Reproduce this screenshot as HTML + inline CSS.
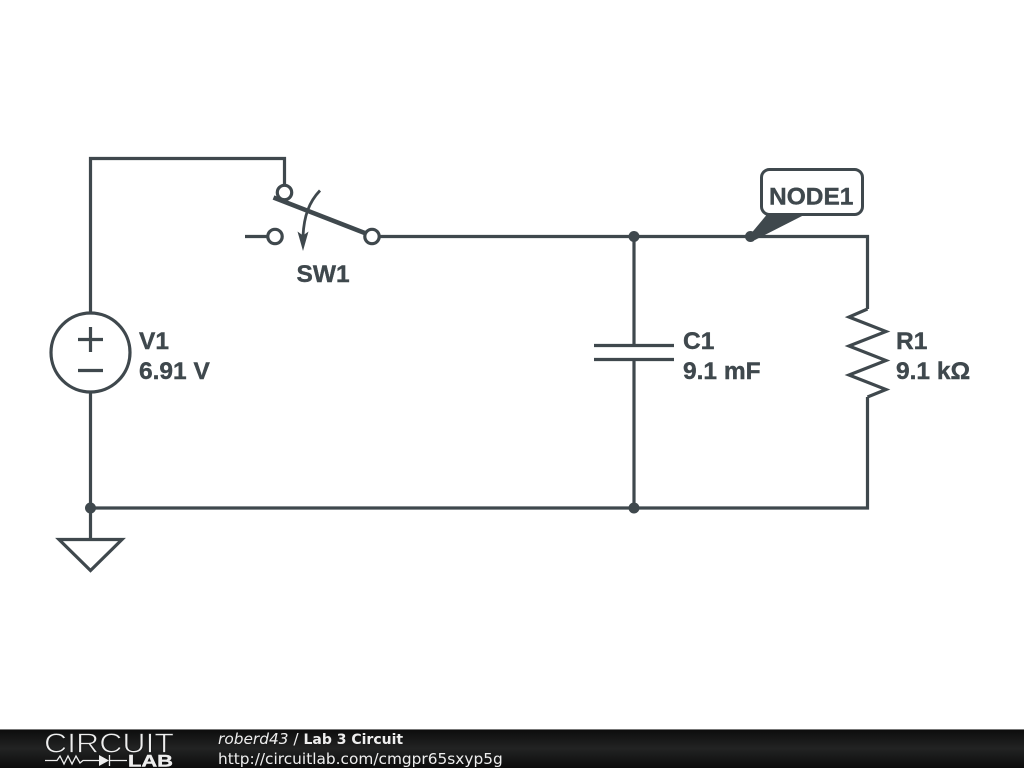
<!DOCTYPE html>
<html>
<head>
<meta charset="utf-8">
<style>
html,body{margin:0;padding:0;background:#fff;width:1024px;height:768px;overflow:hidden}
svg{display:block;position:absolute;left:0;top:0}
</style>
</head>
<body>
<svg width="1024" height="768" viewBox="0 0 1024 768" xmlns="http://www.w3.org/2000/svg">
<defs>
<linearGradient id="bar" x1="0" y1="0" x2="0" y2="1">
<stop offset="0" stop-color="#0c0c0c"/>
<stop offset="0.5" stop-color="#222323"/>
<stop offset="1" stop-color="#0c0c0c"/>
</linearGradient>
</defs>
<rect width="1024" height="768" fill="#fff"/>
<g fill="none" stroke="#3f484d" stroke-width="3.200" stroke-linecap="butt" stroke-linejoin="miter">
<!-- wires -->
<path d="M90.500 313V158.500H284.500V185"/>
<path d="M380 236.500H867.500V309"/>
<path d="M90.500 392V539"/>
<path d="M90.500 508H867.500V397"/>
<path d="M634 236.500V345.500"/>
<path d="M634 359.500V508"/>
<!-- capacitor -->
<path d="M594 345.500H674M594 359.500H674"/>
<!-- resistor -->
<path d="M867.500 309L849 317L886 331.500L849 346L886 360.500L849 375L886 389.500L867.500 397"/>
<!-- source -->
<circle cx="90.500" cy="352.500" r="39.500"/>
<path d="M78 339.500H103M90.500 327V352M78 370.500H103"/>
<!-- ground -->
<path d="M59 539.500H122L90.500 570.500Z"/>
<!-- switch -->
<path d="M245 236.500H267"/>
<circle cx="275" cy="236.500" r="7.200"/>
<circle cx="284.500" cy="192.500" r="7.200"/>
<circle cx="372" cy="236.500" r="7.200"/>
<path d="M273.500 197.500L366 233.500" stroke-width="4.600"/>
<path d="M320 190.500C309 202 304 216 303 236" stroke-width="2.800"/>
</g>
<path d="M297.500 231.500L303 235.500L308.500 231.500L303 251Z" fill="#3f484d"/>
<!-- dots -->
<g fill="#3f484d">
<circle cx="90.500" cy="508" r="5.500"/>
<circle cx="634" cy="508" r="5.500"/>
<circle cx="634" cy="236.500" r="5.500"/>
<circle cx="750.500" cy="236.500" r="5.500"/>
<path d="M749 236L769 212L806 214L755 240Z"/>
</g>
<rect x="761.500" y="169.500" width="101" height="45" rx="8" ry="8" fill="#fff" stroke="#3f484d" stroke-width="3"/>
<!-- labels -->
<g font-family="'Liberation Sans',sans-serif" font-weight="bold" font-size="24.500" fill="#3f484d" stroke="#3f484d" stroke-width="0.400">
<text x="769" y="204.500">NODE1</text>
<text x="296.500" y="282">SW1</text>
<text x="139" y="349">V1</text>
<text x="139" y="379">6.91 V</text>
<text x="683" y="349">C1</text>
<text x="683" y="379">9.1 mF</text>
<text x="896" y="349">R1</text>
<text x="896" y="379">9.1 kΩ</text>
</g>
<!-- footer -->
<rect x="0" y="729" width="1024" height="39" fill="url(#bar)"/>
<rect x="0" y="729" width="1024" height="1" fill="#777"/>
<text x="44" y="752.500" font-family="'Liberation Sans',sans-serif" font-size="28" fill="#eee" stroke="#191a1a" stroke-width="0.800" textLength="130" lengthAdjust="spacingAndGlyphs">CIRCUIT</text>
<g fill="none" stroke="#eee" stroke-width="1.300">
<path d="M45 760.500H57L60 756L64 764L68 756L72 764L76 756L80 763L83 760.500H99M109 760.500H127"/>
<path d="M109.500 755V766"/>
</g>
<path d="M99 755L109 760.500L99 766Z" fill="#eee"/>
<text x="128" y="766.500" font-family="'Liberation Sans',sans-serif" font-weight="bold" font-size="16.500" fill="#eee" stroke="#eee" stroke-width="0.400" textLength="45" lengthAdjust="spacingAndGlyphs">LAB</text>
<text x="218" y="744" font-family="'DejaVu Sans',sans-serif" font-size="15.360" fill="#eee"><tspan font-style="italic">roberd43</tspan> / <tspan font-weight="bold" font-size="14">Lab 3 Circuit</tspan></text>
<text x="218" y="764" font-family="'DejaVu Sans',sans-serif" font-size="15.360" fill="#eee">http://circuitlab.com/cmgpr65sxyp5g</text>
</svg>
</body>
</html>
